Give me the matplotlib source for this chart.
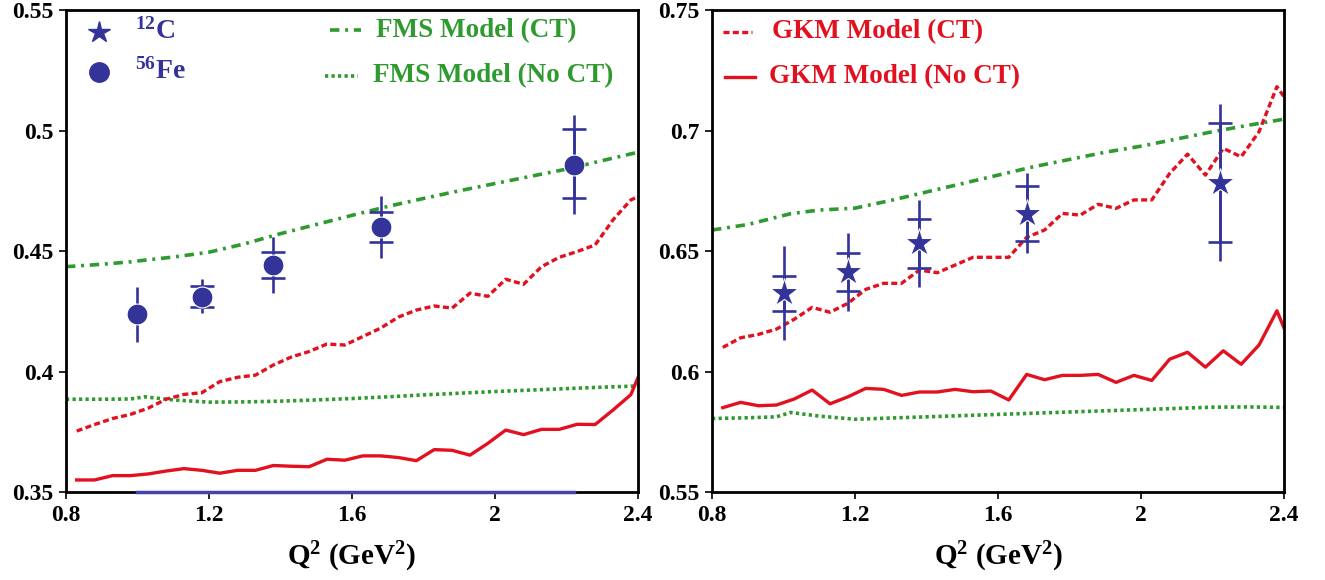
import numpy as np
import matplotlib
matplotlib.use("Agg")
import matplotlib.pyplot as plt

plt.rcParams["font.family"] = ["Liberation Serif", "DejaVu Serif"]
plt.rcParams["font.weight"] = "bold"
plt.rcParams["axes.labelweight"] = "bold"
plt.rcParams["mathtext.fontset"] = "custom"
plt.rcParams["mathtext.rm"] = "Liberation Serif:bold"
plt.rcParams["mathtext.it"] = "Liberation Serif:bold"
plt.rcParams["mathtext.bf"] = "Liberation Serif:bold"

BLUE = "#333399"
GREEN = "#2f9a2f"
RED = "#e2111f"

# data points (same Q2 for both nuclei)
q2_data = [1.0, 1.18, 1.38, 1.68, 2.22]

fe_val = [0.424, 0.431, 0.444, 0.460, 0.4857]
fe_lo = [0.4123, 0.4243, 0.4326, 0.4472, 0.4652]
fe_hi = [0.435, 0.4385, 0.456, 0.4728, 0.5066]
fe_cap_lo = [0.424, 0.4268, 0.4386, 0.4539, 0.4718]
fe_cap_hi = [0.424, 0.4355, 0.4498, 0.4663, 0.5005]

c_val = [0.6326, 0.6412, 0.6533, 0.6652, 0.6783]
c_lo = [0.613, 0.625, 0.635, 0.649, 0.6457]
c_hi = [0.652, 0.6573, 0.6713, 0.6822, 0.711]
c_cap_lo = [0.625, 0.6334, 0.6429, 0.6543, 0.6538]
c_cap_hi = [0.6398, 0.6491, 0.6634, 0.677, 0.7032]

# GKM model curves
q2_gkm = [0.83, 0.88, 0.93, 0.98, 1.03, 1.08, 1.13, 1.18, 1.23, 1.28, 1.33,
          1.38, 1.43, 1.48, 1.53, 1.58, 1.63, 1.68, 1.73, 1.78, 1.83, 1.88,
          1.93, 1.98, 2.03, 2.08, 2.13, 2.18, 2.23, 2.28, 2.33, 2.38, 2.4]

gkm_ct_fe = [0.3753, 0.378, 0.3805, 0.3822, 0.3848, 0.3885, 0.3905, 0.3912,
             0.3958, 0.3976, 0.3985, 0.4027, 0.406, 0.4083, 0.4114, 0.411,
             0.4145, 0.418, 0.4226, 0.4255, 0.4272, 0.4263, 0.4325, 0.4312,
             0.4383, 0.4362, 0.4435, 0.4474, 0.4498, 0.4525, 0.4629, 0.4712,
             0.4726]
gkm_noct_fe = [0.355, 0.355, 0.3568, 0.3568, 0.3575, 0.3587, 0.3597, 0.359,
               0.3578, 0.359, 0.359, 0.361, 0.3607, 0.3605, 0.3636, 0.3632,
               0.365, 0.365, 0.3643, 0.363, 0.3676, 0.3673, 0.3653, 0.3702,
               0.3757, 0.3738, 0.376, 0.376, 0.3781, 0.378, 0.384, 0.3904,
               0.3975]

gkm_ct_c = [0.610, 0.614, 0.6154, 0.6176, 0.6217, 0.6266, 0.6246, 0.6283,
            0.6341, 0.6366, 0.6366, 0.6421, 0.641, 0.6442, 0.6474, 0.6474,
            0.6474, 0.6557, 0.6587, 0.6656, 0.6649, 0.6694, 0.6677, 0.6712,
            0.6712, 0.6822, 0.6902, 0.6815, 0.6926, 0.6891, 0.6995, 0.7182,
            0.714]
gkm_noct_c = [0.585, 0.5872, 0.5858, 0.5861, 0.5886, 0.5923, 0.5866, 0.5895,
              0.593, 0.5926, 0.5901, 0.5915, 0.5915, 0.5926, 0.5916, 0.5919,
              0.5882, 0.5988, 0.5966, 0.5984, 0.5984, 0.5988, 0.5955, 0.5984,
              0.5963, 0.6051, 0.608, 0.6018, 0.6086, 0.603, 0.611, 0.6252,
              0.618]

# FMS model curves
q2_fms = [0.8, 0.9, 0.98, 1.02, 1.1, 1.2, 1.3, 1.4, 1.5, 1.6, 1.7, 1.8,
          1.9, 2.0, 2.1, 2.2, 2.3, 2.4]
fms_ct_fe = [0.4435, 0.4445, 0.4455, 0.4462, 0.4475, 0.4495, 0.453, 0.4572,
             0.461, 0.4648, 0.4685, 0.4718, 0.475, 0.478, 0.481, 0.484,
             0.4875, 0.491]
fms_noct_fe = [0.3885, 0.3885, 0.3886, 0.3895, 0.3882, 0.3873, 0.3874,
               0.3877, 0.3882, 0.3888, 0.3895, 0.3903, 0.391, 0.3917, 0.3923,
               0.3929, 0.3935, 0.394]
fms_ct_c = [0.6587, 0.661, 0.664, 0.6655, 0.667, 0.6678, 0.671, 0.6745,
            0.678, 0.6815, 0.685, 0.688, 0.691, 0.6935, 0.6965, 0.6995,
            0.7022, 0.7047]
fms_noct_c = [0.5805, 0.5808, 0.5812, 0.583, 0.5815, 0.5802, 0.5807, 0.5812,
              0.5817, 0.5822, 0.5827, 0.5832, 0.5837, 0.5842, 0.5847, 0.5852,
              0.5853, 0.5851]

DASHDOT = (0, (2.6, 1.6, 0.8, 1.6))
DOTTED = (0, (0.9, 0.9))
DASHED = (0, (1.8, 1.0))
LW_G = 2.6
LW_R = 2.4


def style_axes(ax, ylim, yticks, ylabels):
    ax.set_xlim(0.8, 2.4)
    ax.set_ylim(*ylim)
    ax.set_xticks([0.8, 1.2, 1.6, 2.0, 2.4])
    ax.set_xticklabels(["0.8", "1.2", "1.6", "2", "2.4"])
    ax.set_yticks(yticks)
    ax.set_yticklabels(ylabels)
    ax.tick_params(direction="out", length=5, width=1.2, labelsize=17, pad=4)
    for s in ax.spines.values():
        s.set_linewidth(2)
    ax.set_xlabel("Q$^{2}$ (GeV$^{2}$)", fontsize=21, labelpad=10)


def draw_points(ax, val, lo, hi, cap_lo, cap_hi, marker, ms):
    val = np.array(val)
    x = np.array(q2_data)
    cl = np.array(cap_lo)
    ch = np.array(cap_hi)
    ax.errorbar(x, val, yerr=[val - np.array(lo), np.array(hi) - val],
                fmt="none", ecolor=BLUE, elinewidth=1.9, capsize=0, zorder=4)
    keep = (ch - cl) > 0
    ax.errorbar(x[keep], val[keep], yerr=[val[keep] - cl[keep], ch[keep] - val[keep]],
                fmt="none", ecolor=BLUE, elinewidth=1.9, capsize=8.5,
                capthick=1.9, zorder=4)
    ax.plot(x, val, linestyle="none", marker=marker, ms=ms, color=BLUE,
            mec="white", mew=0.8, zorder=5)


fig = plt.figure(figsize=(13.25, 5.8), dpi=100)
ax1 = fig.add_axes([0.0498, 0.1517, 0.4317, 0.831])
ax2 = fig.add_axes([0.5374, 0.1517, 0.4317, 0.831])

# left panel: 56Fe
ax1.plot(q2_fms, fms_ct_fe, color=GREEN, lw=LW_G, linestyle=DASHDOT)
ax1.plot(q2_fms, fms_noct_fe, color=GREEN, lw=LW_G, linestyle=DOTTED)
ax1.plot(q2_gkm, gkm_ct_fe, color=RED, lw=LW_R, linestyle=DASHED)
ax1.plot(q2_gkm, gkm_noct_fe, color=RED, lw=LW_R)
draw_points(ax1, fe_val, fe_lo, fe_hi, fe_cap_lo, fe_cap_hi, "o", 15)
ax1.plot([q2_data[0], q2_data[-1]], [0.35, 0.35], color="#4444aa", lw=2.5,
         clip_on=False, zorder=6)
style_axes(ax1, (0.35, 0.55), [0.35, 0.4, 0.45, 0.5, 0.55],
           ["0.35", "0.4", "0.45", "0.5", "0.55"])

# right panel: 12C
ax2.plot(q2_fms, fms_ct_c, color=GREEN, lw=LW_G, linestyle=DASHDOT)
ax2.plot(q2_fms, fms_noct_c, color=GREEN, lw=LW_G, linestyle=DOTTED)
ax2.plot(q2_gkm, gkm_ct_c, color=RED, lw=LW_R, linestyle=DASHED)
ax2.plot(q2_gkm, gkm_noct_c, color=RED, lw=LW_R)
draw_points(ax2, c_val, c_lo, c_hi, c_cap_lo, c_cap_hi, "*", 21)
style_axes(ax2, (0.55, 0.75), [0.55, 0.6, 0.65, 0.7, 0.75],
           ["0.55", "0.6", "0.65", "0.7", "0.75"])

# hand-placed legends
t1 = ax1.transAxes
ax1.plot([0.058], [0.955], marker="*", ms=16, color=BLUE, transform=t1)
ax1.plot([0.058], [0.872], marker="o", ms=14, color=BLUE, transform=t1)
ax1.text(0.12, 0.955, "$^{12}$C", color=BLUE, fontsize=20, va="center",
         transform=t1)
ax1.text(0.12, 0.872, "$^{56}$Fe", color=BLUE, fontsize=20, va="center",
         transform=t1)
ax1.plot([0.462, 0.515], [0.958, 0.958], color=GREEN, lw=LW_G,
         linestyle=DASHDOT, transform=t1)
ax1.plot([0.452, 0.51], [0.863, 0.863], color=GREEN, lw=LW_G,
         linestyle=DOTTED, transform=t1)
ax1.text(0.542, 0.958, "FMS Model (CT)", color=GREEN, fontsize=19.5,
         va="center", transform=t1)
ax1.text(0.536, 0.863, "FMS Model (No CT)", color=GREEN, fontsize=19.5,
         va="center", transform=t1)

t2 = ax2.transAxes
ax2.plot([0.02, 0.07], [0.955, 0.955], color=RED, lw=LW_R, linestyle=DASHED,
         transform=t2)
ax2.plot([0.022, 0.075], [0.862, 0.862], color=RED, lw=LW_R, transform=t2)
ax2.text(0.105, 0.955, "GKM Model (CT)", color=RED, fontsize=19.5,
         va="center", transform=t2)
ax2.text(0.1, 0.862, "GKM Model (No CT)", color=RED, fontsize=19.5,
         va="center", transform=t2)

fig.savefig("out.png", dpi=100)
